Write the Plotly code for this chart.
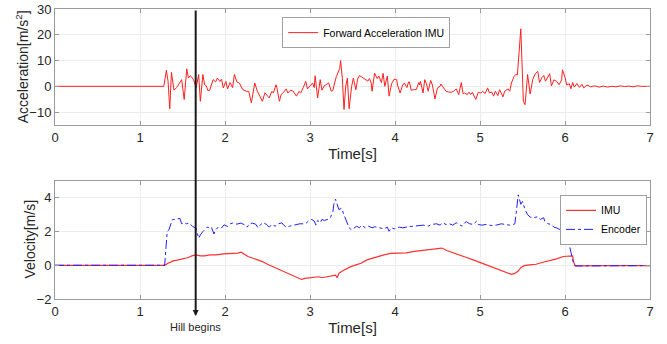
import plotly.graph_objects as go

# ---------------- data ----------------
acc_t = [0, 1.28, 1.31, 1.33, 1.35, 1.37, 1.40, 1.43, 1.46, 1.49, 1.52, 1.55, 1.57, 1.59, 1.61, 1.63,
         1.66, 1.69, 1.71, 1.74, 1.76, 1.78, 1.80, 1.82, 1.86, 1.89, 1.91, 1.94, 1.96, 1.98, 2.01, 2.03,
         2.06, 2.09, 2.11, 2.14, 2.17, 2.21, 2.25, 2.28, 2.31, 2.35, 2.38, 2.41, 2.44, 2.47, 2.49, 2.52,
         2.55, 2.57, 2.60, 2.61, 2.64, 2.66, 2.69, 2.72, 2.74, 2.77, 2.80, 2.84, 2.87, 2.89, 2.92, 2.95,
         2.97, 3.00, 3.03, 3.05, 3.06, 3.09, 3.12, 3.14, 3.17, 3.19, 3.22, 3.25, 3.27, 3.28, 3.31, 3.35,
         3.36, 3.38, 3.40, 3.42, 3.44, 3.46, 3.49, 3.51, 3.54, 3.56, 3.58, 3.61, 3.65, 3.68, 3.70, 3.72,
         3.73, 3.76, 3.79, 3.81, 3.84, 3.86, 3.88, 3.91, 3.93, 3.96, 3.99, 4.02, 4.03, 4.06, 4.09, 4.11,
         4.14, 4.16, 4.17, 4.19, 4.22, 4.25, 4.28, 4.29, 4.30, 4.33, 4.35, 4.37, 4.39, 4.42, 4.44, 4.47,
         4.50, 4.53, 4.54, 4.57, 4.60, 4.63, 4.66, 4.69, 4.72, 4.75, 4.78, 4.80, 4.82, 4.85, 4.87, 4.89,
         4.91, 4.95, 4.98, 5.01, 5.03, 5.06, 5.09, 5.11, 5.14, 5.16, 5.18, 5.21, 5.23, 5.25, 5.27, 5.29,
         5.31, 5.33, 5.35, 5.37, 5.40, 5.42, 5.44, 5.48, 5.51, 5.53, 5.56, 5.59, 5.62, 5.65, 5.68, 5.70,
         5.73, 5.75, 5.77, 5.80, 5.82, 5.84, 5.87, 5.90, 5.93, 5.96, 5.97, 6.00, 6.02, 6.05, 6.07, 6.09,
         6.11, 6.14, 6.17, 6.20, 6.22, 6.25, 6.27, 6.30, 6.35, 6.40, 6.45, 6.50, 6.55, 6.60, 6.65, 6.70,
         6.75, 6.80, 6.85, 6.90, 6.95, 7.00]
acc_v = [0, 0, 6.2, 2.0, -8.7, 5.4, -1.5, -0.5, 1.0, 2.6, -5.1, 6.8, 3.2, 4.1, 3.5, 2.6,
         -0.6, 4.6, -5.8, 4.6, 0.6, 0.2, -1.7, -1.5, 2.6, 1.7, 3.2, 1.9, 2.8, -0.6, 1.9, -1.0,
         1.5, -0.5, 4.6, 1.7, 1.2, -1.3, -1.9, -2.0, -6.4, 1.3, -1.9, -3.8, -5.8, -2.5, -3.2, -4.5,
         -2.0, -2.5, 0.6, -0.5, -5.8, -3.2, -2.3, -1.0, -2.6, -1.5, -1.8, -3.8, -2.0, -2.6, -0.5, 1.9,
         -1.0, 0.2, 1.3, -0.5, 4.1, -4.5, 2.6, -1.5, 0.3, 0.6, 1.3, -1.9, -1.6, 0.0, 3.8, 7.0,
         10.0, 3.2, -9.0, 0.0, 3.2, -8.7, 0.0, 3.2, -1.3, 2.8, 4.2, 3.6, 2.8, 2.0, 3.0, 1.3,
         -1.9, 5.1, 3.0, 4.0, 1.5, 5.0, 0.0, 4.0, -3.8, 1.0, 2.8, 2.6, 0.5, -2.6, 0.5, 1.3,
         -0.5, 1.7, 1.7, -1.5, -1.3, -1.3, 1.5, 0.5, 1.9, -2.6, 2.6, 1.0, -1.9, 2.3, 0.5, -4.9,
         -0.6, 0.0, 0.9, -0.6, -1.9, -2.2, -2.3, -1.9, -1.0, -3.2, 1.5, -2.8, -2.6, -3.2, -2.3, -3.2,
         -2.3, -5.1, -2.3, -2.6, -1.9, -2.8, -0.6, -2.5, -2.3, -3.8, -1.9, -3.6, -1.3, -2.6, -4.1, -1.9,
         -1.3, -1.0, -1.9, 1.3, 3.8, 4.6, 4.4, 22.3, -5.8, -7.1, 4.6, -3.0, 2.6, 4.9, 5.8, 1.5,
         3.5, 4.2, 2.0, 3.5, 4.9, 0.2, 2.5, 2.0, 0.6, 2.5, 6.4, 3.5, 0.5, 1.0, -0.9, 1.5,
         -0.3, 1.1, -0.4, 0.8, -0.6, 0.3, 0.4, -0.2, 0.2, -0.3, 0.1, -0.3, 0.0, -0.2, 0.2, -0.1,
         0.1, -0.2, 0.2, 0.0, 0.1, 0.0]

imu_t = [0, 1.29, 1.33, 1.39, 1.45, 1.51, 1.57, 1.61, 1.66, 1.71, 1.76, 1.82, 1.90, 1.98, 2.06, 2.11,
         2.15, 2.19, 2.23, 2.27, 2.33, 2.39, 2.44, 2.50, 2.56, 2.62, 2.68, 2.74, 2.80, 2.86, 2.90, 2.94,
         3.00, 3.06, 3.10, 3.14, 3.20, 3.26, 3.30, 3.32, 3.34, 3.38, 3.44, 3.48, 3.54, 3.60, 3.67, 3.73,
         3.79, 3.87, 3.95, 4.02, 4.13, 4.23, 4.33, 4.41, 4.49, 4.55, 4.61, 4.69, 4.76, 4.84, 4.92, 5.00,
         5.07, 5.15, 5.23, 5.31, 5.37, 5.41, 5.45, 5.48, 5.52, 5.58, 5.66, 5.74, 5.82, 5.90, 5.98, 6.06,
         6.09, 6.10, 6.12, 6.5, 7.0]
imu_v = [0, 0, 0.12, 0.26, 0.32, 0.38, 0.46, 0.56, 0.62, 0.56, 0.56, 0.62, 0.62, 0.68, 0.68, 0.72,
         0.72, 0.78, 0.66, 0.52, 0.42, 0.32, 0.22, 0.06, -0.08, -0.22, -0.34, -0.48, -0.62, -0.74, -0.84, -0.78,
         -0.74, -0.68, -0.68, -0.74, -0.68, -0.62, -0.58, -0.74, -0.48, -0.34, -0.18, -0.08, 0.02, 0.12, 0.32, 0.42,
         0.52, 0.62, 0.70, 0.72, 0.74, 0.82, 0.88, 0.92, 0.98, 1.02, 0.88, 0.72, 0.62, 0.46, 0.32, 0.16,
         0.02, -0.12, -0.28, -0.42, -0.54, -0.48, -0.34, -0.14, -0.02, 0.02, 0.06, 0.18, 0.26, 0.38, 0.52, 0.58,
         0.56, 0.22, -0.04, -0.02, -0.02]

enc_t = [0, 1.29, 1.32, 1.34, 1.38, 1.43, 1.47, 1.49, 1.52, 1.55, 1.58, 1.62, 1.66, 1.69, 1.71, 1.74,
         1.76, 1.79, 1.82, 1.84, 1.87, 1.89, 1.92, 1.96, 1.99, 2.03, 2.06, 2.09, 2.14, 2.19, 2.23, 2.26,
         2.29, 2.32, 2.36, 2.39, 2.42, 2.45, 2.49, 2.52, 2.55, 2.59, 2.63, 2.67, 2.69, 2.72, 2.76, 2.80,
         2.84, 2.88, 2.92, 2.96, 2.99, 3.02, 3.05, 3.07, 3.09, 3.12, 3.14, 3.17, 3.21, 3.24, 3.27, 3.28,
         3.30, 3.32, 3.34, 3.37, 3.40, 3.43, 3.46, 3.49, 3.52, 3.55, 3.58, 3.61, 3.65, 3.69, 3.73, 3.76,
         3.79, 3.83, 3.87, 3.91, 3.93, 3.96, 3.99, 4.05, 4.09, 4.15, 4.21, 4.27, 4.33, 4.39, 4.43, 4.49,
         4.53, 4.56, 4.60, 4.64, 4.68, 4.72, 4.76, 4.79, 4.82, 4.84, 4.88, 4.92, 4.96, 4.98, 5.02, 5.07,
         5.13, 5.19, 5.25, 5.31, 5.35, 5.39, 5.41, 5.43, 5.45, 5.48, 5.50, 5.53, 5.56, 5.59, 5.63, 5.68,
         5.71, 5.75, 5.76, 5.80, 5.84, 5.87, 5.90, 5.94, 5.97, 6.00, 6.02, 6.04, 6.06, 6.08, 6.10, 6.12,
         6.5, 7.0]
enc_v = [0, 0, 2.0, 2.1, 2.7, 2.76, 2.78, 2.46, 2.52, 2.46, 2.5, 2.3, 2.2, 1.6, 1.8, 2.0,
         2.1, 2.26, 2.22, 2.26, 1.86, 2.1, 2.26, 2.22, 2.4, 2.3, 2.46, 2.5, 2.44, 2.5, 2.4, 2.26,
         2.46, 2.5, 2.44, 2.22, 2.42, 2.52, 2.42, 2.26, 2.42, 2.32, 2.46, 2.52, 2.38, 2.26, 2.32, 2.38,
         2.42, 2.46, 2.46, 2.52, 2.66, 2.72, 2.62, 2.38, 2.66, 2.52, 2.72, 2.66, 2.72, 2.82, 3.2, 3.62,
         3.92, 3.6, 3.3, 3.38, 3.0, 2.6, 2.22, 2.1, 2.2, 2.32, 2.22, 2.38, 2.22, 2.32, 2.22, 2.28,
         2.26, 2.22, 2.16, 2.26, 2.02, 2.22, 2.16, 2.26, 2.22, 2.28, 2.32, 2.32, 2.38, 2.32, 2.42, 2.46,
         2.38, 2.52, 2.42, 2.46, 2.38, 2.52, 2.38, 2.32, 2.52, 2.58, 2.46, 2.42, 2.62, 2.42, 2.38, 2.42,
         2.36, 2.38, 2.46, 2.42, 2.38, 2.42, 2.46, 3.3, 4.18, 3.62, 3.78, 3.3, 3.0, 2.86, 2.82, 2.88,
         2.72, 2.82, 2.62, 2.46, 2.42, 2.26, 2.22, 2.12, 2.32, 2.22, 1.92, 1.42, 0.92, 0.52, 0.12, -0.04,
         -0.02, -0.02]

x_ticks = [0, 1, 2, 3, 4, 5, 6, 7]
acc_ticks = [-10, 0, 10, 20, 30]
vel_ticks = [-2, 0, 2, 4]
hill_t = 1.655

# ---------------- figure ----------------
FONT = "Liberation Sans, Arial, sans-serif"
TXT = "#262626"
AX = "#9a9a9a"
GRID = "#ececec"

fig = go.Figure()
fig.add_trace(go.Scatter(x=acc_t, y=acc_v, mode="lines", name="Forward Acceleration IMU",
                         line=dict(color="#ff2020", width=1), xaxis="x", yaxis="y", legend="legend"))
fig.add_trace(go.Scatter(x=imu_t, y=imu_v, mode="lines", name="IMU",
                         line=dict(color="#ff3030", width=1.2), xaxis="x2", yaxis="y2", legend="legend2"))
fig.add_trace(go.Scatter(x=enc_t, y=enc_v, mode="lines", name="Encoder",
                         line=dict(color="#2020ff", width=1, dash="dashdot"), xaxis="x2", yaxis="y2",
                         legend="legend2"))

def xax(anchor):
    return dict(range=[0, 7], tickvals=x_ticks, domain=[0, 1], showgrid=True, gridcolor=GRID,
                zeroline=False, automargin=False,
                showline=True, linecolor=AX, linewidth=1, mirror="ticks", ticks="inside", ticklen=4,
                tickcolor=AX, tickfont=dict(size=13, color=TXT, family=FONT), anchor=anchor,
                title=dict(text="Time[s]", font=dict(size=15, color=TXT, family=FONT), standoff=4))

def yax(rng, ticks, dom, anchor):
    return dict(range=rng, tickvals=ticks, domain=dom, showgrid=True, gridcolor=GRID, zeroline=False,
                automargin=False,
                showline=True, linecolor=AX, linewidth=1, mirror="ticks", ticks="inside", ticklen=4,
                tickcolor=AX, tickfont=dict(size=13, color=TXT, family=FONT), anchor=anchor)

fig.update_layout(
    width=667, height=344,
    margin=dict(l=55, r=17, t=9, b=45, autoexpand=False),
    paper_bgcolor="white", plot_bgcolor="white",
    font=dict(family=FONT, color=TXT),
    xaxis=xax("y"),
    xaxis2=xax("y2"),
    yaxis=yax([-15, 30], acc_ticks, [0.6, 1.0], "x"),
    yaxis2=yax([-2, 5], vel_ticks, [0.0, 0.407], "x2"),
    legend=dict(x=0.523, y=0.972, xanchor="center", yanchor="top", bgcolor="white",
                bordercolor="#a0a0a0", borderwidth=1, font=dict(size=10.5, color="black", family=FONT),
                itemwidth=30, tracegroupgap=0),
    legend2=dict(x=0.995, y=0.359, xanchor="right", yanchor="top", bgcolor="white",
                 bordercolor="#a0a0a0", borderwidth=1, font=dict(size=10.5, color="black", family=FONT),
                 itemwidth=30, tracegroupgap=0),
    showlegend=True,
)

# y-axis titles (placed as rotated text)
fig.add_annotation(x=-0.055, y=0.80, xref="paper", yref="paper", text="Acceleration[m/s<sup>2</sup>]",
                   textangle=-90, showarrow=False, xanchor="center", yanchor="middle",
                   font=dict(size=14, color=TXT, family=FONT))
fig.add_annotation(x=-0.042, y=0.205, xref="paper", yref="paper", text="Velocity[m/s]",
                   textangle=-90, showarrow=False, xanchor="center", yanchor="middle",
                   font=dict(size=14, color=TXT, family=FONT))

# Hill begins vertical arrow spanning both panels
fig.add_annotation(x=hill_t, y=-0.059, xref="x", yref="paper", ax=0, ay=-307, axref="pixel",
                   ayref="pixel", showarrow=True, arrowhead=2, arrowsize=0.6, arrowwidth=2,
                   arrowcolor="#1a1a1a", text="")
fig.add_annotation(x=hill_t, y=-0.097, xref="x", yref="paper", text="Hill begins", showarrow=False,
                   font=dict(size=11, color=TXT, family=FONT), yanchor="middle")

# remove the default 8px page margin so the figure sits at the window origin
fig.write_html("out.html", config={"displayModeBar": False},
               post_script="document.body.style.margin='0';")
